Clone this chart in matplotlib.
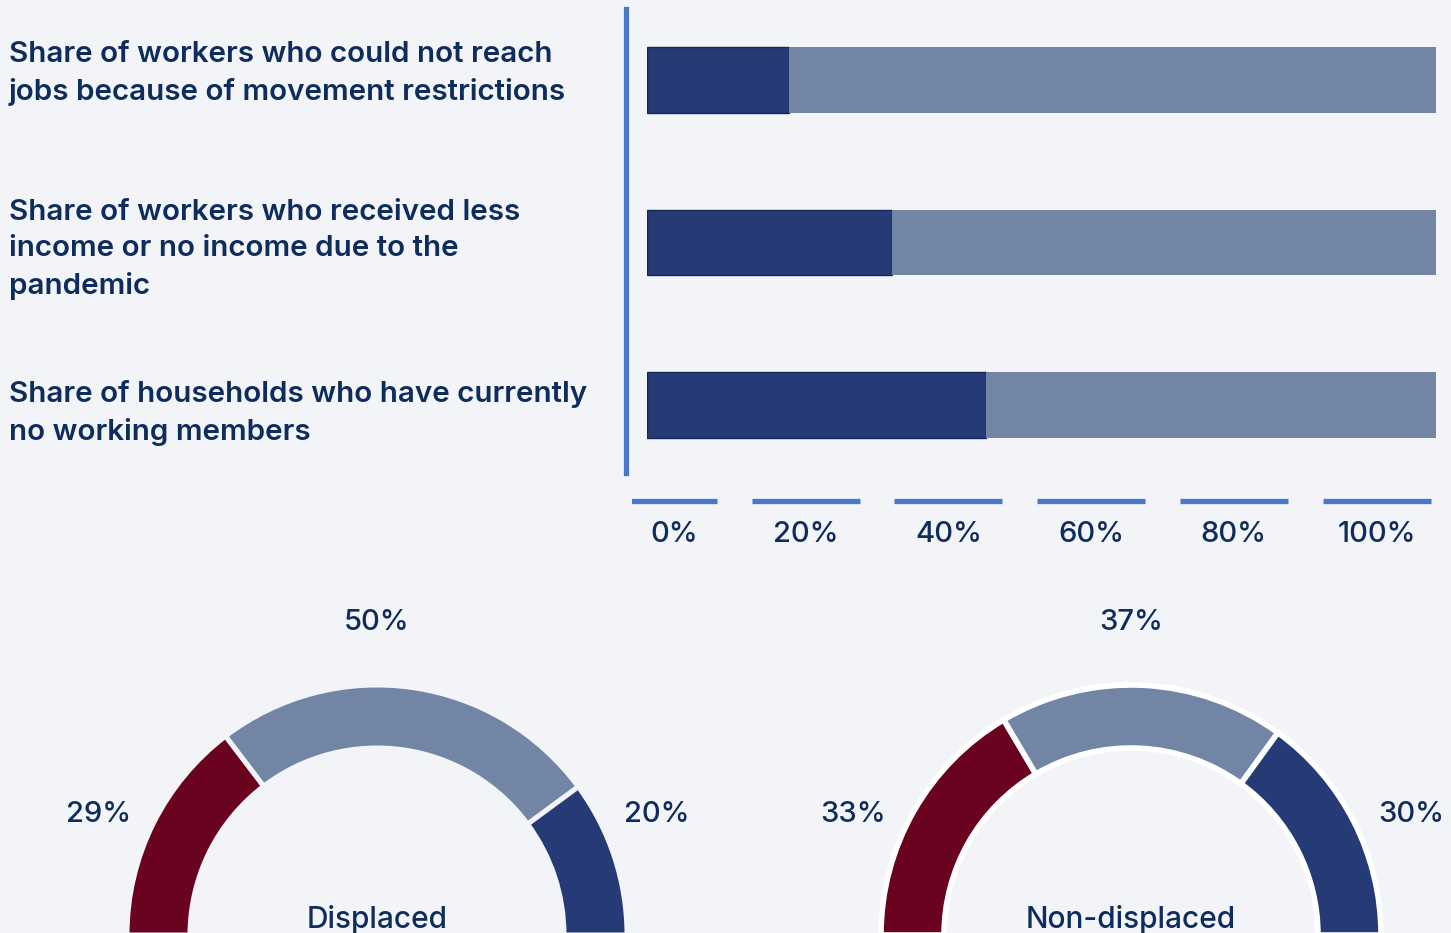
import matplotlib
matplotlib.use("Agg")
import matplotlib.pyplot as plt
from matplotlib.transforms import blended_transform_factory, offset_copy

# ---- data -------------------------------------------------------------
bar_labels = [
    "Share of workers who could not reach\njobs because of movement restrictions",
    "Share of workers who received less\nincome or no income due to the\npandemic",
    "Share of households who have currently\nno working members",
]
bar_values = [18, 31, 43]          # % (dark part)
tick_labels = ["0%", "20%", "40%", "60%", "80%", "100%"]

gauge_titles = ["Displaced", "Non-displaced"]
gauge_red = [29, 33]
gauge_gray = [50, 37]
gauge_navy = [20, 30]

# ---- style ------------------------------------------------------------
BG = "#f2f4f8"
NAVY = "#263a75"
GRAY = "#7385a4"
RED = "#6a0320"
TXT = "#0e2c5c"
AXBLUE = "#4a78c8"
FONT = "Inter"
label_shift = [5, -5, -5.5]   # small vertical nudges of the row labels (pt)

W, H = 1451, 933
fig = plt.figure(figsize=(W / 100, H / 100), dpi=100, facecolor=BG)


def px_axes(x0, y0, x1, y1):
    # axes from pixel box (top-left origin)
    return fig.add_axes([x0 / W, 1 - y1 / H, (x1 - x0) / W, (y1 - y0) / H])


# ---- bar chart --------------------------------------------------------
ax = px_axes(647, 9, 1436, 473)
ax.set_facecolor(BG)
ypos = list(range(len(bar_values)))
rest = [100 - v for v in bar_values]
ax.barh(ypos, bar_values, height=0.406, color=NAVY, edgecolor="#102a5a", linewidth=1)
ax.barh(ypos, rest, left=bar_values, height=0.406, color=GRAY, linewidth=0)
ax.set_xlim(0, 100)
ax.set_ylim(2 + 68 / 162.5, -71 / 162.5)
for s in ["top", "right", "bottom"]:
    ax.spines[s].set_visible(False)
ax.spines["left"].set_position(("outward", 15))
ax.spines["left"].set_color(AXBLUE)
ax.spines["left"].set_linewidth(3.8)
ax.set_xticks([])
ax.set_yticks([])

tr = blended_transform_factory(fig.transFigure, ax.transData)
for y, lab, dy in zip(ypos, bar_labels, label_shift):
    ax.text(9 / W, y, lab, transform=offset_copy(tr, fig=fig, y=dy, units="points"),
            ha="left", va="center", color=TXT, fontsize=21.3, fontfamily=FONT,
            fontweight="semibold", linespacing=1.45)

# ---- tick row ---------------------------------------------------------
tax = px_axes(632, 485, 1448, 560)
tax.set_facecolor("none")
tax.axis("off")
x_start = (632 - 591.6) / 142.8
tax.set_xlim(x_start, len(tick_labels))
tax.set_ylim(1, 0)
for i, lab in enumerate(tick_labels):
    a, b = i + 0.122, i + 0.878
    tax.hlines(0.21, a, b, color=AXBLUE, linewidth=3.8)
    tax.text((max(a, x_start) + b) / 2, 0.66, lab, ha="center", va="center",
             color=TXT, fontsize=21, fontfamily=FONT, fontweight="medium")

# ---- gauges -----------------------------------------------------------
R, r = 250, 187
centers = [377, 1131]
for k, cx in enumerate(centers):
    g = px_axes(cx - 360, 555, cx + 360, 955)
    vals = [gauge_red[k], gauge_gray[k], gauge_navy[k]]
    total = sum(vals)
    edge = BG if k == 0 else "white"
    wedges, _ = g.pie(vals + [total], colors=[RED, GRAY, NAVY, BG],
                      startangle=180, counterclock=False, radius=R,
                      wedgeprops=dict(width=R - r, edgecolor=edge,
                                      linewidth=4.0 if k else 3.6))
    wedges[-1].set_visible(False)
    g.set_xlim(-360, 360)
    g.set_ylim(-20, 380)
    g.set_aspect("equal")
    g.axis("off")
    kw = dict(ha="center", va="center", color=TXT, fontsize=21,
              fontfamily=FONT, fontweight="medium")
    g.text(-278, 121, f"{vals[0]}%", **kw)
    g.text(0, 312, f"{vals[1]}%", **kw)
    g.text(280, 121, f"{vals[2]}%", **kw)
    g.text(0, 7, gauge_titles[k], ha="center", va="baseline", color=TXT,
           fontsize=21.5, fontfamily=FONT, fontweight="medium")

fig.savefig("out.png", dpi=100, facecolor=BG)
